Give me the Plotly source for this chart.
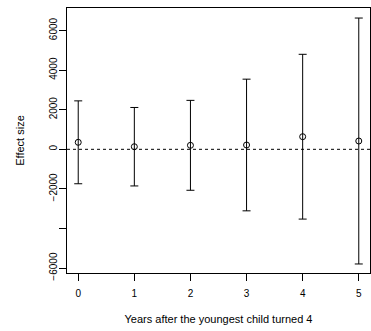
import plotly.graph_objects as go

years = [0, 1, 2, 3, 4, 5]
effect = [354, 132, 202, 218, 638, 420]
ci_half = [2094, 1982, 2271, 3326, 4162, 6212]

y_ticks = [-6000, -4000, -2000, 0, 2000, 4000, 6000]
y_labels = ["\u22126000", "", "\u22122000", "0", "2000", "4000", "6000"]

font = dict(family="Liberation Sans, Arial", size=10, color="black")
title_font = dict(family="Liberation Sans, Arial", size=11, color="black")

fig = go.Figure()

fig.add_scatter(
    x=years,
    y=effect,
    mode="markers",
    marker=dict(
        symbol="circle-open",
        size=6,
        color="black",
        line=dict(width=1, color="black")
    ),
    error_y=dict(
        type="data",
        array=ci_half,
        symmetric=True,
        color="black",
        thickness=1,
        width=4
    ),
    showlegend=False
)

fig.add_hline(y=0, line=dict(color="black", width=1, dash="3px,3px"))

fig.update_layout(
    width=371,
    height=331,
    margin=dict(l=67, r=1, t=8, b=58),
    plot_bgcolor="white",
    paper_bgcolor="white",
    font=font
)

fig.update_xaxes(
    range=[-0.2, 5.2],
    tickvals=years,
    ticks="outside",
    ticklen=7,
    tickcolor="black",
    ticklabelstandoff=4,
    showgrid=False,
    zeroline=False,
    showline=True,
    linecolor="black",
    linewidth=1,
    mirror=True,
    automargin=False,
    title=dict(
        text="Years after the youngest child turned 4",
        standoff=17,
        font=title_font
    )
)

fig.update_yaxes(
    range=[-6248, 7139],
    tickvals=y_ticks,
    ticktext=y_labels,
    tickangle=-90,
    ticks="outside",
    ticklen=7,
    tickcolor="black",
    ticklabelstandoff=-2,
    showgrid=False,
    zeroline=False,
    showline=True,
    linecolor="black",
    linewidth=1,
    mirror=True,
    automargin=False,
    title=dict(text="Effect size", standoff=21, font=title_font)
)

fig.write_html(
    "out.html",
    config={"displayModeBar": False},
    post_script="document.body.style.margin='0';"
)
